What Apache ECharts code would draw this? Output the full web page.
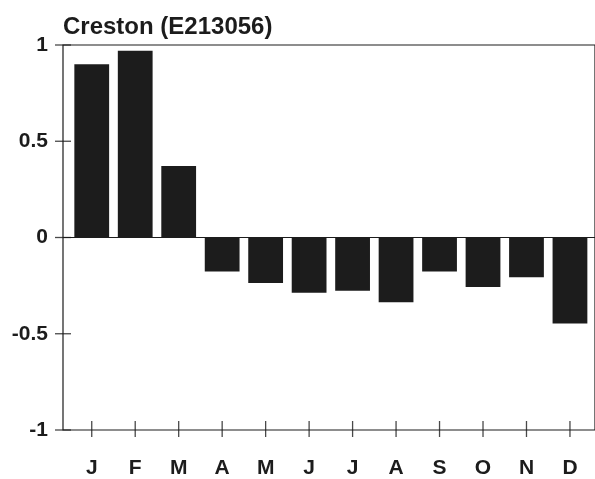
<!DOCTYPE html>
<html><head><meta charset="utf-8">
<script src="https://cdn.jsdelivr.net/npm/echarts@6/dist/echarts.min.js"></script>
<style>html,body{margin:0;padding:0;background:#fff}#c{width:595px;height:479px}</style>
</head><body><div id="c"></div>
<script>
const chartTitle = 'Creston (E213056)';
const months = ['J','F','M','A','M','J','J','A','S','O','N','D'];
const values = [0.90, 0.97, 0.37, -0.18, -0.24, -0.29, -0.28, -0.34, -0.18, -0.26, -0.21, -0.45];
const yTicks = [-1, -0.5, 0, 0.5, 1];

const FONT = '"Liberation Sans", Arial, sans-serif';
const INK = '#1c1c1c';
const yMin = yTicks[0], yMax = yTicks[yTicks.length - 1], yStep = yTicks[1] - yTicks[0];
const lineSt = { color: INK, width: 1.2 };

// tick marks that cross the axes, placed through the axes' own scales
const xTickMarks = months.map((m, i) => [i, yMin]);
const yTickMarks = yTicks.map(t => [0, t]);

const chart = echarts.init(document.getElementById('c'), null, { renderer: 'canvas' });
chart.setOption({
  animation: false,
  backgroundColor: '#fff',
  title: {
    text: chartTitle, left: 58, top: 10,
    textStyle: { fontFamily: FONT, fontWeight: 'bold', fontSize: 24, color: INK }
  },
  grid: [
    { left: 70, right: 3.3, top: 45, bottom: 49 },
    { left: 63, right: -3, top: 45, bottom: 49, show: true, borderColor: INK, borderWidth: 1.2,
      backgroundColor: 'transparent' }
  ],
  xAxis: [
    { type: 'category', gridIndex: 0, data: months, position: 'bottom',
      axisLine: { show: false, onZero: false },
      axisTick: { show: false },
      axisLabel: { margin: 29, fontFamily: FONT, fontWeight: 'bold', fontSize: 21, color: INK },
      splitLine: { show: false } },
    { type: 'value', gridIndex: 1, min: 0, max: 1, show: false,
      axisLine: { onZero: false }, splitLine: { show: false } }
  ],
  yAxis: [
    { type: 'value', gridIndex: 0, min: yMin, max: yMax, interval: yStep, show: false,
      axisLine: { onZero: false }, splitLine: { show: false } },
    { type: 'value', gridIndex: 1, min: yMin, max: yMax, interval: yStep, position: 'left',
      axisLine: { show: false, onZero: false },
      axisTick: { show: false },
      axisLabel: { margin: 15, fontFamily: FONT, fontWeight: 'bold', fontSize: 21, color: INK },
      splitLine: { show: false } }
  ],
  series: [
    { type: 'line', xAxisIndex: 1, yAxisIndex: 1, data: [[0, 0], [1, 0]],
      symbol: 'none', silent: true, lineStyle: { color: INK, width: 1.2 }, z: 1 },
    { type: 'bar', xAxisIndex: 0, yAxisIndex: 0, data: values, barWidth: '80%',
      itemStyle: { color: INK }, z: 2 },
    { type: 'scatter', xAxisIndex: 0, yAxisIndex: 0, data: xTickMarks, clip: false, silent: true,
      symbol: 'rect', symbolSize: [1.3, 16], itemStyle: { color: INK }, z: 3 },
    { type: 'scatter', xAxisIndex: 1, yAxisIndex: 1, data: yTickMarks, clip: false, silent: true,
      symbol: 'rect', symbolSize: [16, 1.3], itemStyle: { color: INK }, z: 3 }
  ]
});
</script></body></html>
